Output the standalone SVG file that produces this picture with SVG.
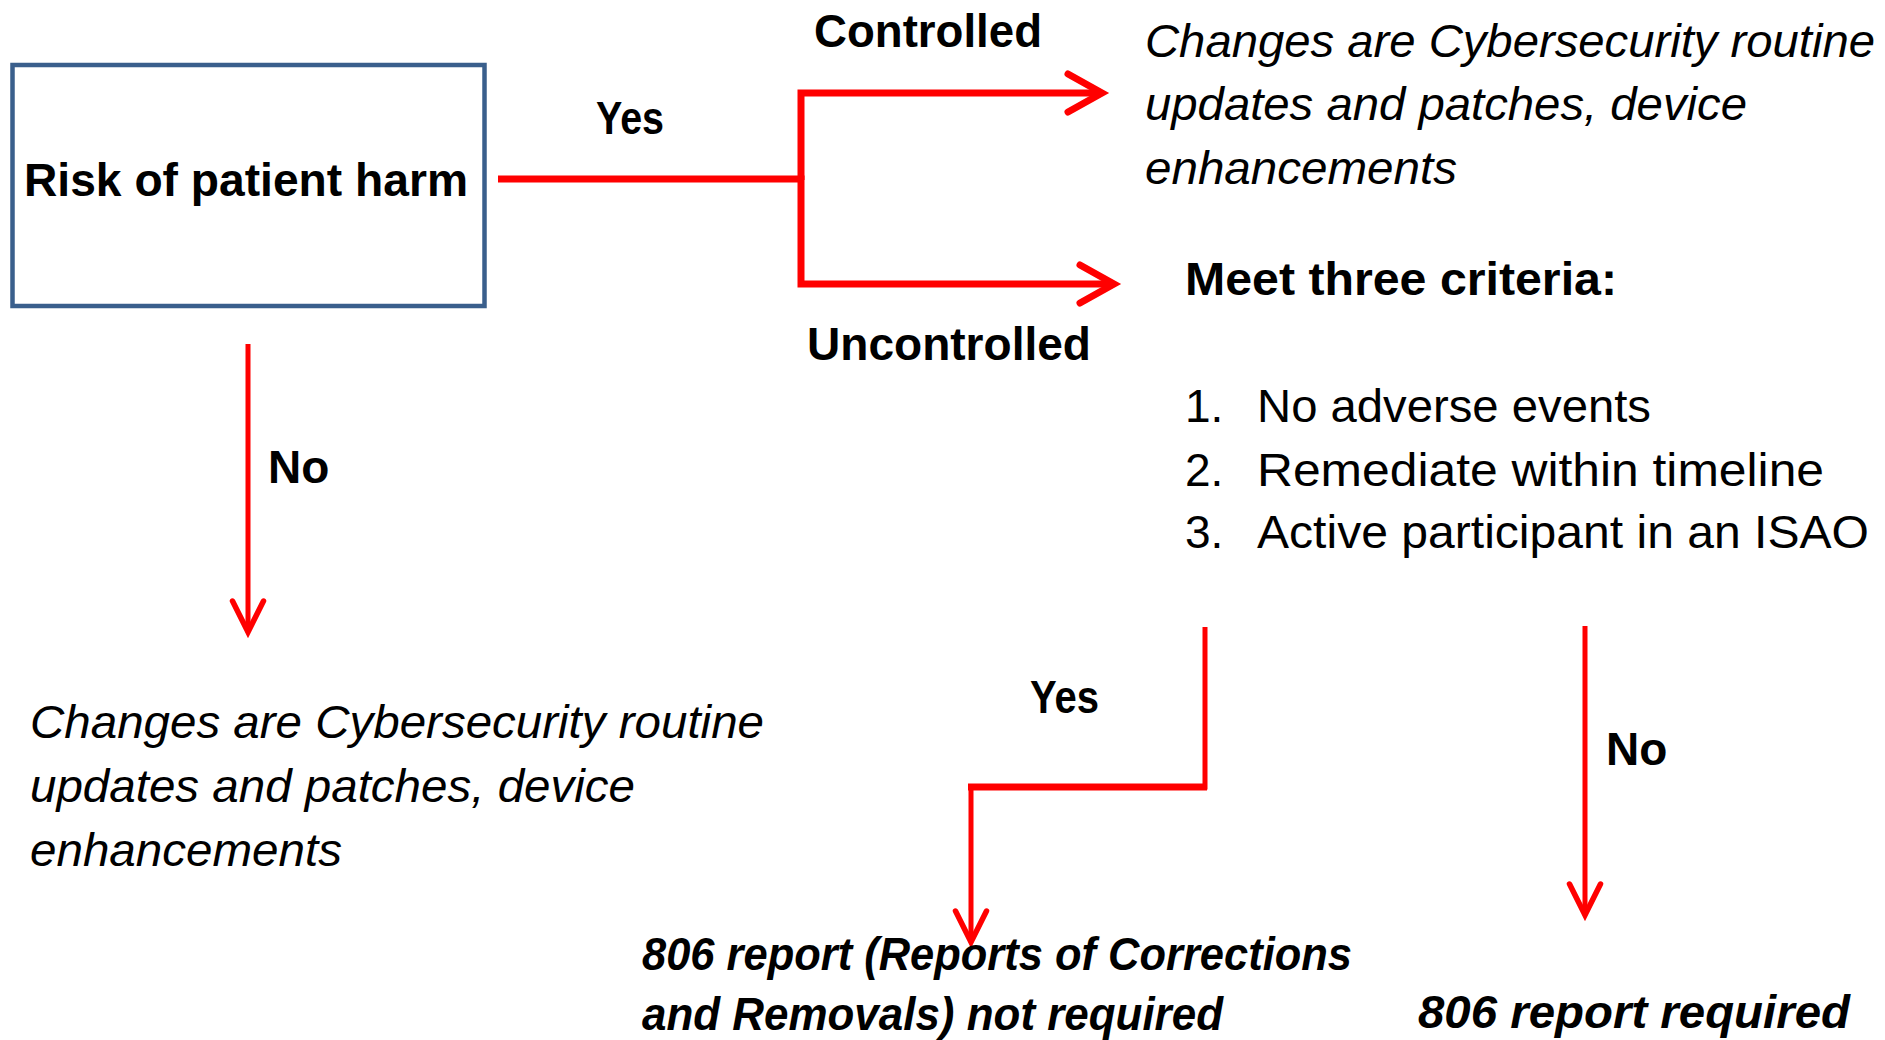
<svg xmlns="http://www.w3.org/2000/svg" width="1885" height="1040" viewBox="0 0 1885 1040">
<style>
text{font-family:"Liberation Sans",Arial,sans-serif;fill:#000;font-size:46px}
.b{font-weight:bold}
.i{font-style:italic}
.bi{font-weight:bold;font-style:italic}
.box{fill:#fff;stroke:#3A5F8C;stroke-width:4.5}
.thick{fill:none;stroke:#FF0000;stroke-width:7;stroke-linejoin:miter}
.thin{fill:none;stroke:#FF0000;stroke-width:5;stroke-linejoin:miter}
</style>
<defs>
<marker id="chevL" markerUnits="userSpaceOnUse" viewBox="-45 -30 55 60" refX="0" refY="0" markerWidth="55" markerHeight="60" orient="auto" overflow="visible">
<path d="M -34 -19 L 0 0 L -34 19" fill="none" stroke="#FF0000" stroke-width="7" stroke-linecap="round"/>
</marker>
<marker id="chevS" markerUnits="userSpaceOnUse" viewBox="-45 -30 55 60" refX="0" refY="0" markerWidth="55" markerHeight="60" orient="auto" overflow="visible">
<path d="M -31 -15.5 L 0 0 L -31 15.5" fill="none" stroke="#FF0000" stroke-width="5.5" stroke-linecap="round"/>
</marker>
</defs>
<rect width="1885" height="1040" fill="#fff"/>

<g id="connectors">
<path class="thick" d="M 498 179 L 801 179 L 801 284 L 1114 284" marker-end="url(#chevL)"/>
<path class="thick" d="M 801 180 L 801 93 L 1102 93" marker-end="url(#chevL)"/>
<path class="thin" d="M 248 344 L 248 632" marker-end="url(#chevS)"/>
<path class="thin" d="M 1205 627 L 1205 787 L 971 787 L 971 942" marker-end="url(#chevS)"/>
<path class="thick" d="M 1207 787 L 968 787"/>
<path class="thin" d="M 1585 626 L 1585 915" marker-end="url(#chevS)"/>
</g>

<g id="labels">
<text class="b" x="814" y="47" textLength="228" lengthAdjust="spacingAndGlyphs">Controlled</text>
<text class="b" x="596" y="134" textLength="68" lengthAdjust="spacingAndGlyphs">Yes</text>
<text class="b" x="807" y="360" textLength="284" lengthAdjust="spacingAndGlyphs">Uncontrolled</text>
<text class="b" x="268" y="483">No</text>
<text class="b" x="1030" y="713" textLength="69" lengthAdjust="spacingAndGlyphs">Yes</text>
<text class="b" x="1606" y="765">No</text>
</g>

<g id="node-risk">
<rect class="box" x="12.5" y="65" width="472" height="241"/>
<text class="b" x="24" y="196" textLength="444" lengthAdjust="spacingAndGlyphs">Risk of patient harm</text>
</g>

<g id="node-controlled-result">
<text class="i" x="1145" y="57" textLength="730" lengthAdjust="spacingAndGlyphs">Changes are Cybersecurity routine</text>
<text class="i" x="1145" y="120" textLength="602" lengthAdjust="spacingAndGlyphs">updates and patches, device</text>
<text class="i" x="1145" y="184" textLength="312" lengthAdjust="spacingAndGlyphs">enhancements</text>
</g>

<g id="node-criteria">
<text class="b" x="1185" y="295" textLength="432" lengthAdjust="spacingAndGlyphs">Meet three criteria:</text>
<text x="1185" y="422">1.</text>
<text x="1257" y="422" textLength="394" lengthAdjust="spacingAndGlyphs">No adverse events</text>
<text x="1185" y="486">2.</text>
<text x="1257" y="486" textLength="567" lengthAdjust="spacingAndGlyphs">Remediate within timeline</text>
<text x="1185" y="548">3.</text>
<text x="1257" y="548" textLength="612" lengthAdjust="spacingAndGlyphs">Active participant in an ISAO</text>
</g>

<g id="node-no-result">
<text class="i" x="30" y="738" textLength="734" lengthAdjust="spacingAndGlyphs">Changes are Cybersecurity routine</text>
<text class="i" x="30" y="802" textLength="605" lengthAdjust="spacingAndGlyphs">updates and patches, device</text>
<text class="i" x="30" y="866" textLength="312" lengthAdjust="spacingAndGlyphs">enhancements</text>
</g>

<g id="node-not-required">
<text class="bi" x="642" y="970" textLength="710" lengthAdjust="spacingAndGlyphs">806 report (Reports of Corrections</text>
<text class="bi" x="642" y="1030" textLength="581" lengthAdjust="spacingAndGlyphs">and Removals) not required</text>
</g>

<g id="node-required">
<text class="bi" x="1418" y="1028" textLength="432" lengthAdjust="spacingAndGlyphs">806 report required</text>
</g>
</svg>
